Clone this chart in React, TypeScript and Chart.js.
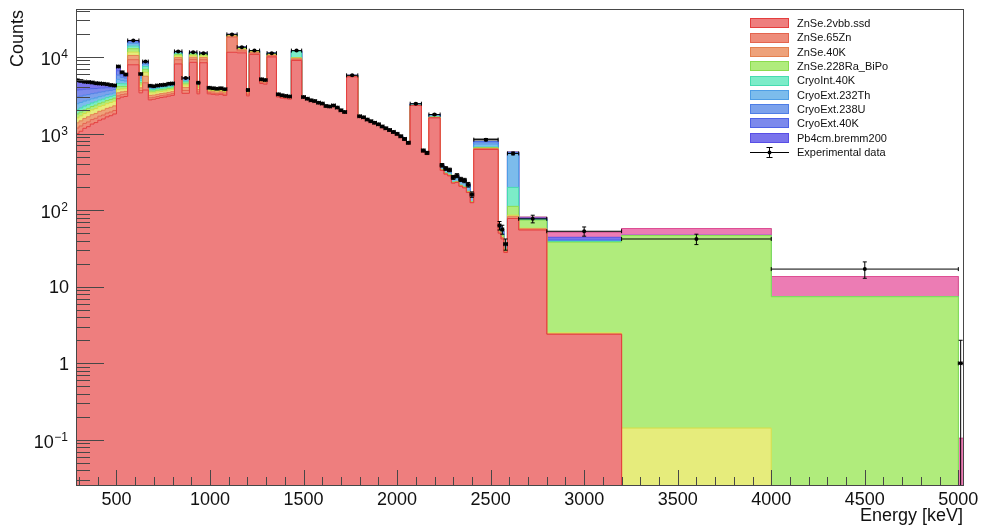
import { useEffect, useRef } from "react";
import { Chart, registerables } from "chart.js";

Chart.register(...registerables);

// Bin edges in keV (variable binning, 96 bins)
const binEdges = [
  280, 300, 320, 340, 360, 380, 400, 420, 440, 460, 480, 500,
  520, 540, 560, 620, 640, 670,
  690, 710, 730, 750, 770, 790, 810,
  850, 890, 930, 945, 985,
  1006, 1027, 1048, 1069, 1090,
  1145, 1195, 1210, 1265, 1285, 1305, 1355,
  1375, 1395, 1415, 1435, 1490,
  1510, 1530, 1550, 1570, 1590, 1610, 1630, 1650, 1670, 1690, 1710, 1730,
  1790,
  1810, 1830, 1850, 1870, 1890, 1910, 1930, 1950, 1970, 1990, 2010, 2030, 2050, 2070,
  2130, 2150, 2170, 2230,
  2250, 2270, 2290, 2310, 2330, 2350, 2370, 2390, 2410,
  2540, 2555, 2570, 2590, 2650, 2800, 3200, 4000, 5000, 5025,
];

// Measured counts per bin and their uncertainties
const experimentalCounts = [
  4950, 4850, 4750, 4700, 4650, 4550, 4500, 4450, 4400, 4300, 4250,
  7500, 6300, 5900, 16400, 6000, 8700,
  4200, 4150, 4250, 4300, 4350, 4450, 4500,
  11800, 5300, 11500, 4600, 11200,
  3950, 3900, 3850, 3900, 3800,
  19700, 13400, 3700, 12100, 5100, 5000, 11200,
  3250, 3150, 3100, 3050, 12100,
  2990, 2850, 2710, 2650, 2530, 2460, 2290, 2260, 2330, 2180, 2010, 1910,
  5750,
  1680, 1630, 1520, 1450, 1380, 1320, 1240, 1170, 1110, 1050, 990, 920, 850, 760,
  2450, 600, 560, 1770,
  385, 350, 335, 268, 282, 252, 244, 215, 160,
  832, 63, 56, 36, 550, 77, 53, 42, 17, 1,
];
const experimentalErrors = [
  70, 70, 69, 69, 68, 67, 67, 67, 66, 66, 65,
  87, 79, 77, 128, 77, 93,
  65, 64, 65, 66, 66, 67, 67,
  109, 73, 107, 68, 106,
  63, 62, 62, 62, 62,
  140, 116, 61, 110, 71, 71, 106,
  57, 56, 56, 55, 110,
  55, 53, 52, 51, 50, 50, 48, 48, 48, 47, 45, 44,
  76,
  41, 40, 39, 38, 37, 36, 35, 34, 33, 32, 31, 30, 29, 28,
  49, 24, 24, 42,
  20, 19, 18, 16, 17, 16, 16, 15, 13,
  29, 8, 7.5, 6, 23, 8.8, 7.3, 6.5, 4.1, 1,
];

// Simulated background components (bottom of the stack first)
const znse2vbb = [
  1000, 1070, 1170, 1230, 1330, 1390, 1490, 1550, 1650, 1710, 1800,
  2850, 2990, 3050, 7900, 3400, 3700,
  2750, 2800, 2880, 2950, 3000, 3080, 3150,
  8100, 3350, 8500, 3300, 8400,
  3300, 3250, 3200, 3250, 3150,
  11500, 11300, 3100, 10800, 4500, 4400, 10000,
  3000, 2900, 2850, 2800, 9000,
  2930, 2790, 2650, 2590, 2470, 2400, 2230, 2200, 2270, 2120, 1950, 1850,
  5500,
  1640, 1590, 1480, 1410, 1340, 1280, 1200, 1130, 1070, 1010, 950, 880, 810, 720,
  2320, 570, 530, 1600,
  330, 295, 280, 225, 230, 205, 195, 170, 125,
  620, 50, 42, 28, 78, 55, 2.4, 0, 0, 0,
];
const znse65Zn = [
  180, 185, 185, 190, 190, 190, 195, 195, 200, 200, 200,
  250, 230, 230, 1300, 250, 900,
  180, 170, 170, 170, 170, 170, 170,
  1100, 300, 800, 200, 800,
  120, 120, 120, 120, 120,
  6600, 700, 150, 400, 150, 150, 300,
  60, 60, 60, 60, 200,
  15, 15, 15, 15, 15, 15, 15, 15, 15, 15, 15, 15,
  20,
  3, 3, 3, 3, 3, 3, 3, 3, 3, 3, 3, 3, 3, 3,
  0, 0, 0, 0,
  0, 0, 0, 0, 0, 0, 0, 0, 0,
  0, 0, 0, 0, 0, 0, 0, 0, 0, 0,
];
const znse40K = [
  200, 210, 220, 235, 240, 250, 265, 270, 280, 290, 300,
  300, 280, 270, 1260, 300, 1000,
  220, 200, 200, 200, 200, 200, 200,
  600, 350, 600, 250, 600,
  150, 150, 150, 150, 150,
  600, 400, 130, 300, 130, 130, 250,
  60, 60, 60, 60, 400,
  10, 10, 10, 10, 10, 10, 10, 10, 10, 10, 10, 10,
  20,
  2, 2, 2, 2, 2, 2, 2, 2, 2, 2, 2, 2, 2, 2,
  3, 0, 0, 20,
  3, 3, 3, 2, 2, 2, 2, 2, 1,
  20, 2, 2, 1, 5, 2, 0, 0, 0, 0,
];
const znse232Th = [
  220, 235, 250, 260, 275, 290, 300, 315, 325, 340, 350,
  350, 320, 300, 1090, 350, 700,
  250, 230, 250, 230, 230, 250, 230,
  500, 300, 500, 250, 500,
  130, 130, 130, 130, 130,
  300, 300, 110, 200, 110, 110, 200,
  50, 50, 50, 50, 100,
  10, 10, 10, 10, 10, 10, 10, 10, 10, 10, 10, 10,
  60,
  5, 5, 5, 5, 5, 5, 5, 5, 5, 5, 5, 5, 5, 5,
  5, 0, 0, 10,
  2, 2, 2, 1, 1, 1, 1, 1, 1,
  0, 0, 0, 0, 3, 1, 0.1, 0.143, 0, 0,
];
const znse228RaBiPo = [
  200, 205, 210, 215, 220, 225, 230, 235, 240, 245, 250,
  350, 300, 280, 1250, 300, 600,
  200, 190, 190, 190, 190, 190, 190,
  500, 250, 500, 200, 450,
  100, 100, 100, 100, 100,
  250, 250, 80, 150, 80, 80, 150,
  30, 30, 30, 30, 100,
  8, 8, 8, 8, 8, 8, 8, 8, 8, 8, 8, 8,
  40,
  5, 5, 5, 5, 5, 5, 5, 5, 5, 5, 5, 5, 5, 5,
  10, 5, 5, 10,
  5, 5, 5, 4, 4, 4, 4, 3, 2,
  15, 3, 3, 2, 26, 16, 35.6, 46.4, 7.4, 0,
];
const cryoInt40K = [
  250, 250, 250, 250, 250, 250, 250, 250, 250, 250, 250,
  400, 350, 320, 1040, 350, 600,
  180, 170, 170, 170, 170, 170, 170,
  400, 250, 300, 150, 250,
  70, 70, 70, 70, 70,
  250, 250, 60, 150, 60, 60, 200,
  25, 25, 25, 25, 2000,
  6, 6, 6, 6, 6, 6, 6, 6, 6, 6, 6, 6,
  20,
  2, 2, 2, 2, 2, 2, 2, 2, 2, 2, 2, 2, 2, 2,
  2, 0, 0, 5,
  0, 0, 0, 0, 0, 0, 0, 0, 0,
  12, 0, 0, 0, 86, 1, 0.8, 0, 0, 0,
];
const cryoExt232Th = [
  400, 390, 370, 350, 340, 320, 300, 290, 280, 260, 250,
  600, 450, 400, 1100, 350, 500,
  150, 140, 140, 140, 140, 140, 140,
  300, 200, 150, 100, 100,
  40, 40, 40, 40, 40,
  100, 100, 35, 50, 35, 35, 50,
  15, 15, 15, 15, 50,
  8, 8, 8, 8, 8, 8, 8, 8, 8, 8, 8, 8,
  50,
  15, 15, 15, 15, 15, 15, 15, 15, 15, 15, 15, 15, 15, 15,
  80, 20, 20, 90,
  35, 35, 35, 28, 35, 32, 33, 31, 25,
  60, 5, 5, 3, 352, 1, 0.7, 0, 0, 0,
];
const cryoExt238U = [
  550, 530, 510, 490, 470, 450, 430, 410, 390, 370, 350,
  700, 500, 450, 660, 350, 350,
  120, 120, 120, 120, 120, 120, 120,
  150, 150, 80, 80, 50,
  20, 20, 20, 20, 20,
  50, 50, 20, 30, 20, 20, 30,
  5, 5, 5, 5, 50,
  3, 3, 3, 3, 3, 3, 3, 3, 3, 3, 3, 3,
  30,
  8, 8, 8, 8, 8, 8, 8, 8, 8, 8, 8, 8, 8, 8,
  25, 5, 5, 30,
  10, 10, 10, 8, 10, 8, 9, 8, 6,
  50, 2, 2, 1, 10, 1, 0.6, 0, 0, 0,
];
const cryoExt40K = [
  700, 660, 620, 580, 540, 500, 450, 400, 350, 300, 250,
  800, 450, 320, 450, 200, 200,
  80, 70, 70, 70, 70, 70, 70,
  100, 100, 40, 40, 30,
  10, 10, 10, 10, 10,
  30, 30, 10, 15, 10, 10, 15,
  3, 3, 3, 3, 150,
  0, 0, 0, 0, 0, 0, 0, 0, 0, 0, 0, 0,
  5,
  0, 0, 0, 0, 0, 0, 0, 0, 0, 0, 0, 0, 0, 0,
  3, 0, 0, 3,
  0, 0, 0, 0, 0, 0, 0, 0, 0,
  5, 0, 0, 0, 5, 0.5, 0.5, 0, 0, 0,
];
const pb4cmBremm200 = [
  1250, 1115, 965, 900, 795, 685, 590, 535, 435, 335, 250,
  900, 430, 280, 350, 150, 150,
  70, 60, 60, 60, 60, 60, 60,
  50, 50, 30, 30, 20,
  10, 10, 10, 10, 10,
  20, 20, 5, 5, 5, 5, 5,
  2, 2, 2, 2, 50,
  0, 0, 0, 0, 0, 0, 0, 0, 0, 0, 0, 0,
  5,
  0, 0, 0, 0, 0, 0, 0, 0, 0, 0, 0, 0, 0, 0,
  2, 0, 0, 2,
  0, 0, 0, 0, 0, 0, 0, 0, 0,
  5, 0, 0, 0, 5, 1.5, 3.5, 0.5, 0, 0,
];
const muonInduced = [
  0, 0, 0, 0, 0, 0, 0, 0, 0, 0, 0,
  0, 0, 0, 0, 0, 0,
  0, 0, 0, 0, 0, 0, 0,
  0, 0, 0, 0, 0,
  0, 0, 0, 0, 0,
  0, 0, 0, 0, 0, 0, 0,
  0, 0, 0, 0, 0,
  0, 0, 0, 0, 0, 0, 0, 0, 0, 0, 0, 0,
  0,
  0, 0, 0, 0, 0, 0, 0, 0, 0, 0, 0, 0, 0, 0,
  0, 0, 0, 0,
  0, 0, 0, 0, 0, 0, 0, 0, 0,
  0, 0, 0, 0, 0, 2, 7.3, 10.5, 6.2, 0.105,
];
const radonSurface = [
  0, 0, 0, 0, 0, 0, 0, 0, 0, 0, 0,
  0, 0, 0, 0, 0, 0,
  0, 0, 0, 0, 0, 0, 0,
  0, 0, 0, 0, 0,
  0, 0, 0, 0, 0,
  0, 0, 0, 0, 0, 0, 0,
  0, 0, 0, 0, 0,
  0, 0, 0, 0, 0, 0, 0, 0, 0, 0, 0, 0,
  0,
  0, 0, 0, 0, 0, 0, 0, 0, 0, 0, 0, 0, 0, 0,
  0, 0, 0, 0,
  0, 0, 0, 0, 0, 0, 0, 0, 0,
  70, 0, 0, 0, 5, 0, 0, 0, 0, 0,
];

const components = [
  { label: "ZnSe.2vbb.ssd", values: znse2vbb, fill: "rgb(238,126,126)", line: "rgb(228,62,62)", inLegend: true },
  { label: "ZnSe.65Zn", values: znse65Zn, fill: "rgb(238,140,122)", line: "rgb(228,100,78)", inLegend: true },
  { label: "ZnSe.40K", values: znse40K, fill: "rgb(238,162,122)", line: "rgb(228,128,78)", inLegend: true },
  { label: "ZnSe.232Th", values: znse232Th, fill: "rgb(230,236,124)", line: "rgb(212,220,70)", inLegend: false },
  { label: "ZnSe.228Ra_BiPo", values: znse228RaBiPo, fill: "rgb(176,236,124)", line: "rgb(138,220,78)", inLegend: true },
  { label: "CryoInt.40K", values: cryoInt40K, fill: "rgb(124,236,200)", line: "rgb(70,220,176)", inLegend: true },
  { label: "CryoExt.232Th", values: cryoExt232Th, fill: "rgb(124,188,236)", line: "rgb(78,158,230)", inLegend: true },
  { label: "CryoExt.238U", values: cryoExt238U, fill: "rgb(124,162,236)", line: "rgb(78,126,230)", inLegend: true },
  { label: "CryoExt.40K", values: cryoExt40K, fill: "rgb(124,138,236)", line: "rgb(78,98,230)", inLegend: true },
  { label: "Pb4cm.bremm200", values: pb4cmBremm200, fill: "rgb(122,116,236)", line: "rgb(88,78,230)", inLegend: true },
  { label: "Muon.induced", values: muonInduced, fill: "rgb(236,124,180)", line: "rgb(222,78,148)", inLegend: false },
  { label: "Radon.surface", values: radonSurface, fill: "rgb(172,172,172)", line: "rgb(130,130,130)", inLegend: false },
];

const xRange = { min: 289, max: 5025 };
const yRange = { min: 0.0258, max: 41000 };
const xTickLabels = [500, 1000, 1500, 2000, 2500, 3000, 3500, 4000, 4500, 5000];
const yTickLabels = [
  { value: 0.1, base: "10", exp: "\u22121" },
  { value: 1, base: "1", exp: "" },
  { value: 10, base: "10", exp: "" },
  { value: 100, base: "10", exp: "2" },
  { value: 1000, base: "10", exp: "3" },
  { value: 10000, base: "10", exp: "4" },
];
const xTitle = "Energy [keV]";
const yTitle = "Counts";
const dataLabel = "Experimental data";

const FONT = '"Liberation Sans", Arial, Helvetica, sans-serif';
const INK = "#111";
const AXIS = "#474747";

// A log axis drops zero values, so empty bins get a floor far below the visible range
const EMPTY_BIN = 1e-7;

// Histogram bins as step-line vertices: each value is held until the next edge
function stepPoints(values: number[]) {
  const pts = values.map((v, i) => ({ x: binEdges[i], y: v > 0 ? v : EMPTY_BIN }));
  pts.push({ x: binEdges[values.length], y: pts[pts.length - 1].y });
  return pts;
}

const frameAndDecorations = {
  id: "frameAndDecorations",
  afterDatasetsDraw(chart: any) {
    const { ctx, chartArea: a, scales } = chart;
    const xs = scales.x;
    const ys = scales.y;

    // Error bars on the measured points (E1 style with end caps)
    ctx.save();
    ctx.beginPath();
    ctx.rect(a.left, a.top, a.right - a.left, a.bottom - a.top);
    ctx.clip();
    ctx.strokeStyle = "#000";
    ctx.lineWidth = 1;
    const cap = 2;
    experimentalCounts.forEach((v, i) => {
      const xl = xs.getPixelForValue(binEdges[i]);
      const xr = xs.getPixelForValue(binEdges[i + 1]);
      const xc = xs.getPixelForValue((binEdges[i] + binEdges[i + 1]) / 2);
      const yc = ys.getPixelForValue(v);
      const err = experimentalErrors[i];
      const yt = ys.getPixelForValue(v + err);
      const yb = v - err > 0 ? ys.getPixelForValue(v - err) : a.bottom + 4;
      ctx.beginPath();
      ctx.moveTo(xl, yc);
      ctx.lineTo(xr, yc);
      ctx.moveTo(xl, yc - cap);
      ctx.lineTo(xl, yc + cap);
      ctx.moveTo(xr, yc - cap);
      ctx.lineTo(xr, yc + cap);
      ctx.moveTo(xc, yt);
      ctx.lineTo(xc, yb);
      ctx.moveTo(xc - cap, yt);
      ctx.lineTo(xc + cap, yt);
      ctx.moveTo(xc - cap, yb);
      ctx.lineTo(xc + cap, yb);
      ctx.stroke();
    });
    ctx.restore();

    ctx.save();
    // Frame
    ctx.strokeStyle = AXIS;
    ctx.lineWidth = 1;
    ctx.strokeRect(a.left - 0.5, a.top - 0.5, a.right - a.left + 1, a.bottom - a.top + 1);

    // Y ticks (log): long at decades, short at 2..9
    ctx.beginPath();
    for (let d = -2; d <= 4; d++) {
      for (let m = 1; m <= 9; m++) {
        const v = m * Math.pow(10, d);
        if (v < ys.min || v > ys.max) continue;
        const py = Math.round(ys.getPixelForValue(v)) + 0.5;
        const len = m === 1 ? 27 : 13;
        ctx.moveTo(a.left, py);
        ctx.lineTo(a.left + len, py);
      }
    }
    // X ticks: long every 500 keV, short every 100 keV
    for (let e = 300; e <= 5000; e += 100) {
      const px = Math.round(xs.getPixelForValue(e)) + 0.5;
      const len = e % 500 === 0 ? 15 : 8;
      ctx.moveTo(px, a.bottom);
      ctx.lineTo(px, a.bottom - len);
    }
    ctx.stroke();

    // X tick labels
    ctx.fillStyle = INK;
    ctx.font = `18px ${FONT}`;
    ctx.textAlign = "center";
    ctx.textBaseline = "alphabetic";
    xTickLabels.forEach((t) => {
      ctx.fillText(String(t), xs.getPixelForValue(t), a.bottom + 20);
    });

    // Y tick labels with superscript exponents
    const labelRight = a.left - 9;
    yTickLabels.forEach((t) => {
      const py = ys.getPixelForValue(t.value);
      ctx.textAlign = "right";
      if (t.exp) {
        ctx.font = `12px ${FONT}`;
        const ew = ctx.measureText(t.exp).width;
        ctx.fillText(t.exp, labelRight, py + 1);
        ctx.font = `18px ${FONT}`;
        ctx.fillText(t.base, labelRight - ew - 0.5, py + 8);
      } else {
        ctx.font = `18px ${FONT}`;
        ctx.fillText(t.base, labelRight + 1, py + 6.5);
      }
    });

    // Axis titles
    ctx.font = `18px ${FONT}`;
    ctx.textAlign = "right";
    ctx.fillText(xTitle, a.right, 521);
    ctx.save();
    ctx.translate(22.5, a.top);
    ctx.rotate(-Math.PI / 2);
    ctx.textAlign = "right";
    ctx.fillText(yTitle, 0, 0);
    ctx.restore();

    // Legend
    const legendRows = components.filter((c) => c.inLegend);
    const boxLeft = 750;
    const boxWidth = 39;
    const textLeft = 797;
    const rowStep = 14.3;
    const firstRow = 23.3;
    ctx.font = `11px ${FONT}`;
    ctx.textAlign = "left";
    legendRows.forEach((c, i) => {
      const cy = firstRow + i * rowStep;
      ctx.fillStyle = c.fill;
      ctx.fillRect(boxLeft, Math.round(cy - 5), boxWidth, 10);
      ctx.strokeStyle = c.line;
      ctx.lineWidth = 1;
      ctx.strokeRect(boxLeft + 0.5, Math.round(cy - 5) + 0.5, boxWidth - 1, 9);
      ctx.fillStyle = INK;
      ctx.fillText(c.label, textLeft, cy + 3.8);
    });
    const dy = Math.round(firstRow + legendRows.length * rowStep) + 0.5;
    const dx = boxLeft + boxWidth / 2;
    ctx.strokeStyle = "#000";
    ctx.beginPath();
    ctx.moveTo(boxLeft, dy);
    ctx.lineTo(boxLeft + boxWidth, dy);
    ctx.moveTo(dx, dy - 5);
    ctx.lineTo(dx, dy + 5);
    ctx.moveTo(dx - 3, dy - 5);
    ctx.lineTo(dx + 3, dy - 5);
    ctx.moveTo(dx - 3, dy + 5);
    ctx.lineTo(dx + 3, dy + 5);
    ctx.stroke();
    ctx.fillStyle = "#000";
    ctx.beginPath();
    ctx.arc(dx, dy, 2, 0, Math.PI * 2);
    ctx.fill();
    ctx.fillStyle = INK;
    ctx.fillText(dataLabel, textLeft, dy + 3.8);

    ctx.restore();
  },
};

export default function App() {
  const canvasRef = useRef<HTMLCanvasElement>(null);

  useEffect(() => {
    const canvas = canvasRef.current;
    if (!canvas) return;

    const stackSets = components.map((c, i) => ({
      type: "line" as const,
      label: c.label,
      data: stepPoints(c.values),
      stepped: "before" as const,
      fill: i === 0 ? "start" : "-1",
      backgroundColor: c.fill,
      borderColor: c.line,
      borderWidth: 1,
      pointRadius: 0,
      tension: 0,
      clip: 0,
    }));

    const dataSet = {
      type: "scatter" as const,
      label: dataLabel,
      stack: "measured",
      order: -1,
      data: experimentalCounts.map((v, i) => ({
        x: (binEdges[i] + binEdges[i + 1]) / 2,
        y: v,
      })),
      pointRadius: 2,
      pointBackgroundColor: "#000",
      pointBorderWidth: 0,
      showLine: false,
    };

    const chart = new Chart(canvas, {
      type: "line",
      data: { datasets: [...stackSets, dataSet] as any },
      options: {
        responsive: false,
        animation: false,
        events: [],
        layout: { padding: { left: 77, right: 18, top: 10, bottom: 41 } },
        scales: {
          x: { type: "linear", min: xRange.min, max: xRange.max, display: false },
          y: { type: "logarithmic", min: yRange.min, max: yRange.max, display: false, stacked: true },
        },
        plugins: {
          legend: { display: false },
          tooltip: { enabled: false },
        },
      } as any,
      plugins: [frameAndDecorations],
    });

    return () => chart.destroy();
  }, []);

  return (
    <div style={{ position: "fixed", left: 0, top: 0, width: 981, height: 526, background: "#fff" }}>
      <canvas ref={canvasRef} width={981} height={526} style={{ display: "block" }} />
    </div>
  );
}
